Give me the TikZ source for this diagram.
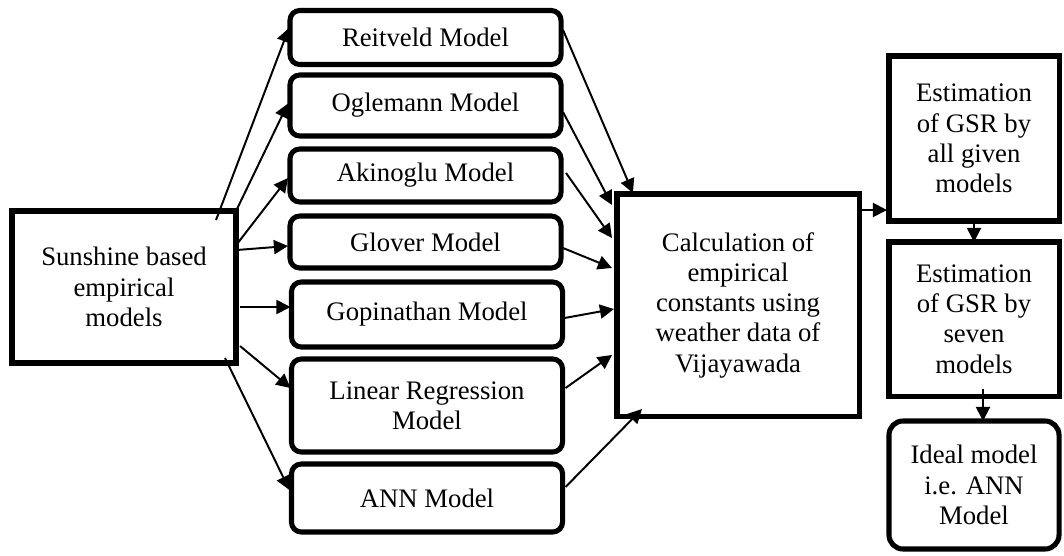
\documentclass[tikz,border=0pt]{standalone}
\usepackage{fontspec}
\setmainfont{Liberation Serif}
\usetikzlibrary{arrows.meta,calc}
\tikzset{
  block/.style={rectangle, draw=black, line width=3.6pt, outer sep=0pt,
                align=center, inner sep=0pt},
  model/.style={block, rounded corners=7pt, minimum width=6.775cm},
  arrow/.style={-{Triangle[length=10pt,width=10pt]}, line width=1.4pt, draw=black}
}

\begin{document}
\begin{tikzpicture}[x=0.025cm, y=-0.025cm,
  every node/.style={font=\fontsize{19}{21.5}\selectfont}]
\useasboundingbox (0,0) rectangle (1064,555);
% input
\node[block, line width=4pt, minimum width=5.6cm, minimum height=3.8cm] (sun) at (124,287)
  {Sunshine based\\empirical\\models};
% models
\node[model, minimum height=1.35cm]  (reit) at (425.5,37.5)  {Reitveld Model};
\node[model, minimum height=1.525cm] (ogl)  at (425.5,105.5) {Oglemann Model};
\node[model, minimum height=1.325cm] (aki)  at (425.5,175.5) {Akinoglu Model};
\node[model, minimum height=1.3cm]   (glo)  at (425.5,242)   {Glover Model};
\node[model, minimum height=1.625cm] (gop)  at (427,314.5)   {Gopinathan Model};
\node[model, minimum height=2.325cm] (lin)  at (427,405.5)   {Linear Regression\\Model};
\node[model, minimum height=1.7cm]   (ann)  at (427,498)     {ANN Model};
% calculation and results
\node[block, minimum width=6.05cm, minimum height=5.55cm] (calc) at (738,305)
  {Calculation of\\empirical\\constants using\\weather data of\\Vijayawada};
\node[block, minimum width=4.25cm, minimum height=4.125cm] (est1) at (974,138.5)
  {Estimation\\of GSR by\\all given\\models};
\node[block, minimum width=4.25cm, minimum height=3.85cm] (est2) at (974,319)
  {Estimation\\of GSR by\\seven\\models};
\node[block, rounded corners=10pt, minimum width=4.25cm, minimum height=3.2cm]
  (ideal) at (974,485) {Ideal model\\i.e. ANN\\Model};
% input to models
\draw[arrow] ($(sun.north east)+(-20,9)$) -- ($(reit.west)+(-1,-9.5)$);
\draw[arrow] (sun.north east) -- ($(ogl.west)+(-2,-2)$);
\draw[arrow] ($(sun.north east)+(1,33)$) -- ($(aki.west)+(-2,2.5)$);
\draw[arrow] ($(sun.north east)+(1,39)$) -- ($(glo.west)+(-2,4)$);
\draw[arrow] ($(sun.east)+(4,20)$) -- ($(gop.west)+(-1,-7.5)$);
\draw[arrow] ($(sun.south east)+(4,-17)$) -- ($(lin.west)+(-1,-17.5)$);
\draw[arrow] ($(sun.south east)+(-11,-5)$) -- ($(ann.west)+(-2,-8)$);
% models to calculation
\draw[arrow] ($(reit.east)+(2,-7.5)$) -- ($(calc.north west)+(16,-1)$);
\draw[arrow] ($(ogl.east)+(2,6.5)$) -- ($(calc.north west)+(-5,11)$);
\draw[arrow] ($(aki.east)+(5,-2.5)$) -- ($(calc.north west)+(-5,44)$);
\draw[arrow] ($(glo.east)+(2,6)$) -- ($(calc.north west)+(-5,74)$);
\draw[arrow] ($(gop.east)+(2,3.5)$) -- ($(calc.west)+(-3,4)$);
\draw[arrow] ($(lin.east)+(3,-17.5)$) -- ($(calc.west)+(-5,50)$);
\draw[arrow] ($(ann.east)+(3,-11)$) -- ($(calc.south west)+(25,-7)$);
% results chain
\draw[arrow] ($(calc.north east)+(1,16)$) -- ($(est1.south west)+(-2,-11)$);
\draw[arrow] ($(est1.south)+(0,-3)$) -- (est2.north);
\draw[arrow] ($(est2.south)+(9,-7)$) -- ($(ideal.north)+(9,0)$);
\end{tikzpicture}
\end{document}
